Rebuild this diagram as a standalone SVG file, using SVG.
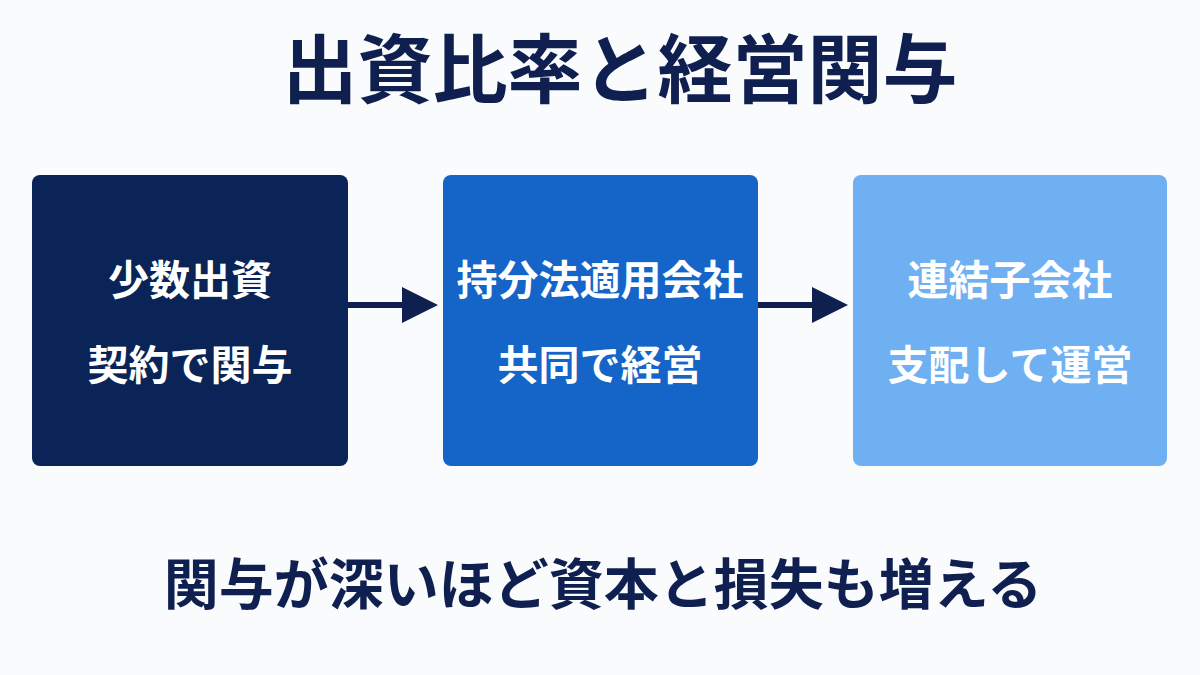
<svg xmlns="http://www.w3.org/2000/svg" width="1200" height="675" viewBox="0 0 1200 675">
<style>
text{font-family:"Noto Sans CJK JP","Noto Sans CJK SC",sans-serif;font-weight:bold;text-anchor:middle}
.t{fill:#0f1f4f}
.b{fill:#fff;font-size:41px}
</style>
<defs><marker id="ah" markerWidth="6" markerHeight="6" refX="5" refY="3" orient="auto" markerUnits="strokeWidth"><path d="M0,0 L6,3 L0,6 z" fill="#0f1f4f"/></marker></defs>
<rect width="1200" height="675" fill="#fafbfd"/>
<text class="t" x="620" y="97" font-size="75">出資比率と経営関与</text>
<g id="n1"><rect x="32" y="175" width="316" height="291" rx="8" fill="#0b2457"/><text class="b" x="190" y="295">少数出資</text><text class="b" x="190" y="380">契約で関与</text></g>
<g id="n2"><rect x="443" y="175" width="315" height="291" rx="8" fill="#1565c8"/><text class="b" x="600" y="295">持分法適用会社</text><text class="b" x="600" y="380">共同で経営</text></g>
<g id="n3"><rect x="853" y="175" width="314" height="291" rx="8" fill="#6fb0f3"/><text class="b" x="1010" y="295">連結子会社</text><text class="b" x="1010" y="380">支配して運営</text></g>
<g id="edges" stroke="#0f1f4f" stroke-width="6"><line x1="348" y1="305" x2="432" y2="305" marker-end="url(#ah)"/><line x1="758" y1="305" x2="842" y2="305" marker-end="url(#ah)"/></g>
<text class="t" x="603" y="604" font-size="55">関与が深いほど資本と損失も増える</text>
</svg>
